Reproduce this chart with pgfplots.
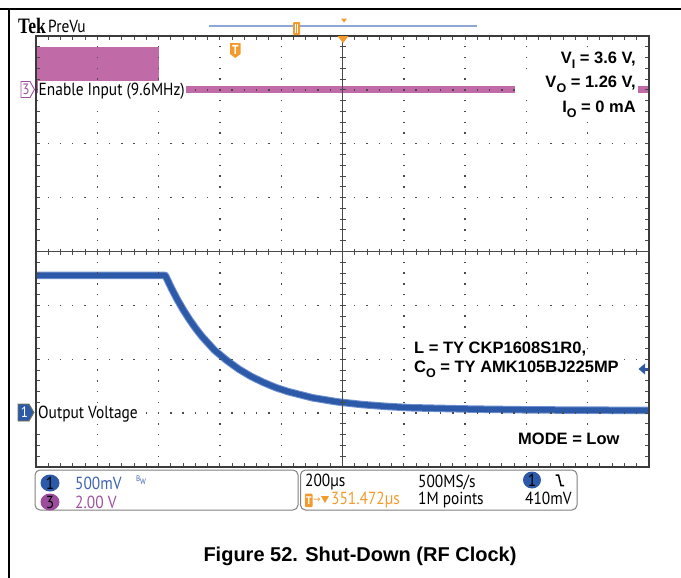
\documentclass[border=0pt]{standalone}
\usepackage{graphicx}
\usepackage{pgfplots}
\pgfplotsset{compat=1.18}
\usepackage{pgfplotstable}
\usepackage{fontspec}
\setmainfont{Liberation Sans}
\newfontfamily\tek[FakeStretch=0.88]{PT Sans}
\newfontfamily\tekserif{Liberation Serif}
\newfontfamily\sym{DejaVu Sans}
\definecolor{chpink}{HTML}{C06AA8}
\definecolor{chblue}{HTML}{2D59A9}
\definecolor{chbluelt}{HTML}{6F91CF}
\definecolor{tekorange}{HTML}{F39A2B}
\definecolor{grat}{HTML}{4A4A4A}
\definecolor{hdrblue}{HTML}{8EA7D7}
\definecolor{txtblue}{HTML}{3D62B3}
\definecolor{txtpurple}{HTML}{A0509F}
\definecolor{circpurple}{HTML}{9B4C9B}
\newcommand\tekf{\tek\fontsize{17.5bp}{20bp}\selectfont}
\newcommand\sub[1]{\raisebox{-0.32em}{\fontsize{12.5bp}{13bp}\selectfont #1}}

% Channel 1 (Output voltage), x in divisions (200 us/div), y in divisions (500 mV/div)
\pgfplotstableread{
t v
0.00 -0.445
2.11 -0.445
2.21 -0.684
2.31 -0.901
2.41 -1.097
2.51 -1.274
2.61 -1.435
2.71 -1.580
2.91 -1.830
3.11 -2.020
3.31 -2.185
3.51 -2.320
3.71 -2.430
3.91 -2.525
4.11 -2.600
4.51 -2.715
4.91 -2.790
5.31 -2.840
5.71 -2.875
6.11 -2.900
7.11 -2.925
8.11 -2.940
10.0 -2.950
}\chone

\begin{document}
\begin{tikzpicture}
\useasboundingbox (0,0) rectangle (681bp,-578bp);
\begin{axis}[
  at={(36bp,-467bp)}, anchor=south west,
  scale only axis, width=613bp, height=431bp,
  xmin=0, xmax=10, ymin=-4, ymax=4,
  xtick={0,...,10}, ytick={-4,...,4},
  xticklabels={}, yticklabels={},
  minor x tick num=4, minor y tick num=4,
  tick align=inside,
  major tick length=4bp, minor tick length=4bp,
  tick style={draw=grat, line width=1bp},
  axis line style={draw=grat!80!black, line width=1.3bp},
  grid=major,
  x grid style={draw=grat, line width=1.4bp, dash pattern=on 1.4bp off 9.375bp, dash phase=0.7bp},
  y grid style={draw=grat, line width=1.4bp, dash pattern=on 1.4bp off 10.86bp, dash phase=0.7bp},
  axis on top,
]
% Channel 3: enable input (9.6 MHz clock, then low)
\addplot[draw=none, fill=chpink] coordinates {(0,2.94) (2.011,2.94) (2.011,3.796) (0,3.796)} -- cycle;
\addplot[chpink, line width=7bp] coordinates {(2.011,3.0) (10,3.0)};
% Channel 1: output voltage
\addplot[chbluelt, line width=7.5bp, line join=round] table[x=t, y=v] {\chone};
\addplot[chblue, line width=5.5bp, line join=round] table[x=t, y=v] {\chone};
\end{axis}

\begin{scope}[x=1bp, y=-1bp]
% page frame
\draw[black, line width=1.2bp] (0,9) -- (681,9);
\draw[black, line width=1.2bp] (9,9) -- (9,578);
% centre crosshair
\draw[grat, line width=1.3bp] (342.5,36) -- (342.5,467);
\draw[grat, line width=1.3bp] (36,251.5) -- (649,251.5);
\foreach \i in {1,...,49} \draw[grat, line width=1bp] ({36+\i*12.26},248.5) -- ++(0,6);
\foreach \j in {1,...,39} \draw[grat, line width=1bp] (339.5,{36+\j*10.775}) -- ++(6,0);

% header
\node[anchor=base west, inner sep=0, font=\tekserif\bfseries\fontsize{22bp}{22bp}\selectfont] at (18,33.5) {\scalebox{0.8}[1]{Tek}};
\node[anchor=base west, inner sep=0, font=\tekf] at (48,32) {PreVu};
\draw[hdrblue, line width=1.8bp] (209,25.7) -- (477,25.7);
\fill[tekorange, rounded corners=1bp] (293,22) rectangle (300,35);
\draw[white, line width=0.8bp] (295.2,24) -- (295.2,33) (297.8,24) -- (297.8,33);
\fill[tekorange] (341,18.5) -- (347,18.5) -- (344,22.5) -- cycle;
\fill[tekorange] (337.5,36) -- (348.5,36) -- (343,43) -- cycle;
\fill[tekorange] (230,43) -- (240.5,43) -- (240.5,54) -- (235.25,58) -- (230,54) -- cycle;
\node[white, inner sep=0, font=\tek\bfseries\fontsize{13bp}{13bp}\selectfont] at (235.25,50) {T};

% channel labels
\draw[txtpurple, fill=white, line width=0.9bp] (21,81.5) -- (30,81.5) -- (34.5,89.5) -- (30,97.5) -- (21,97.5) -- cycle;
\node[txtpurple, inner sep=0, font=\tek\fontsize{15bp}{15bp}\selectfont] at (26,89.5) {3};
\node[anchor=base west, fill=white, inner xsep=1bp, inner ysep=2bp, font=\tekf] at (37.5,95) {Enable Input (9.6MHz)};
\draw[fill=chblue, draw=black!60!yellow, line width=0.9bp] (18,404) -- (29,404) -- (34,412.5) -- (29,421) -- (18,421) -- cycle;
\node[white, inner sep=0, font=\tek\fontsize{15bp}{15bp}\selectfont] at (24.5,412.5) {1};
\node[anchor=base west, fill=white, inner xsep=1bp, inner ysep=2bp, font=\tekf] at (37,418) {Output Voltage};

% annotations
\fill[white] (515,78) rectangle (637.5,99);
\begin{scope}[every node/.style={fill=white, inner xsep=1bp, inner ysep=1.5bp, font=\bfseries\fontsize{16.5bp}{20bp}\selectfont}]
\node[anchor=base east] at (637,63) {V\sub{I} = 3.6 V,};
\node[anchor=base east] at (637,87) {V\sub{O} = 1.26 V,};
\node[anchor=base east] at (637,112) {I\sub{O} = 0 mA};
\node[anchor=base west] at (413,353) {L = TY CKP1608S1R0,};
\node[anchor=base west] at (413,372) {C\sub{O} = TY AMK105BJ225MP};
\node[anchor=base west] at (517,444) {MODE = Low};
\end{scope}
% trigger level arrow
\fill[chblue] (638.5,369) -- (645,363.5) -- (645,374.5) -- cycle;
\draw[chblue, line width=1.5bp] (644,369) -- (648,369);

% status bar
\draw[gray, line width=1bp, rounded corners=5bp] (35,470) rectangle (298,510);
\draw[gray, line width=1bp, rounded corners=5bp] (300.5,470) rectangle (577,510);
\fill[chblue] (50,483) ellipse (9.5 and 8.5);
\node[inner sep=0, font=\tekf] at (50,483) {1};
\node[anchor=west, inner sep=0, txtblue, font=\tekf] at (75,483) {500mV};
\node[inner sep=0, txtblue, font=\tek\fontsize{8bp}{8bp}\selectfont] at (141,480) {B\raisebox{-2.5bp}{W}};
\fill[circpurple] (50,502) ellipse (9.5 and 8.5);
\node[inner sep=0, font=\tekf] at (50,502) {3};
\node[anchor=west, inner sep=0, txtpurple, font=\tekf] at (75,502) {2.00 V};

\node[anchor=west, inner sep=0, font=\tekf] at (305,482) {200µs};
\fill[tekorange, rounded corners=1bp] (305,493.5) rectangle (312.5,507);
\node[white, inner sep=0, font=\tek\bfseries\fontsize{11bp}{11bp}\selectfont] at (308.75,500.5) {T};
\node[tekorange, inner sep=0, font=\sym\fontsize{9bp}{9bp}\selectfont] at (317,500) {→};
\fill[tekorange] (321,496) -- (329,496) -- (325,503) -- cycle;
\node[anchor=west, inner sep=0, tekorange, font=\tekf] at (331,500) {351.472µs};
\node[anchor=west, inner sep=0, font=\tekf] at (418,482) {500MS/s};
\node[anchor=west, inner sep=0, font=\tekf] at (418,500) {1M points};
\fill[chblue] (532,480) ellipse (9 and 8.5);
\node[inner sep=0, font=\tekf] at (532,480) {1};
\draw[black, line width=1.5bp] (555.5,475) -- (558.5,475) -- (561,485.5) -- (564,485.5);
\node[anchor=west, inner sep=0, font=\tekf] at (525,498) {410mV};

% caption
\node[anchor=base, inner sep=0, font=\bfseries\fontsize{20bp}{24bp}\selectfont] at (360,561) {Figure 52. Shut-Down (RF Clock)};
\end{scope}
\end{tikzpicture}
\end{document}
